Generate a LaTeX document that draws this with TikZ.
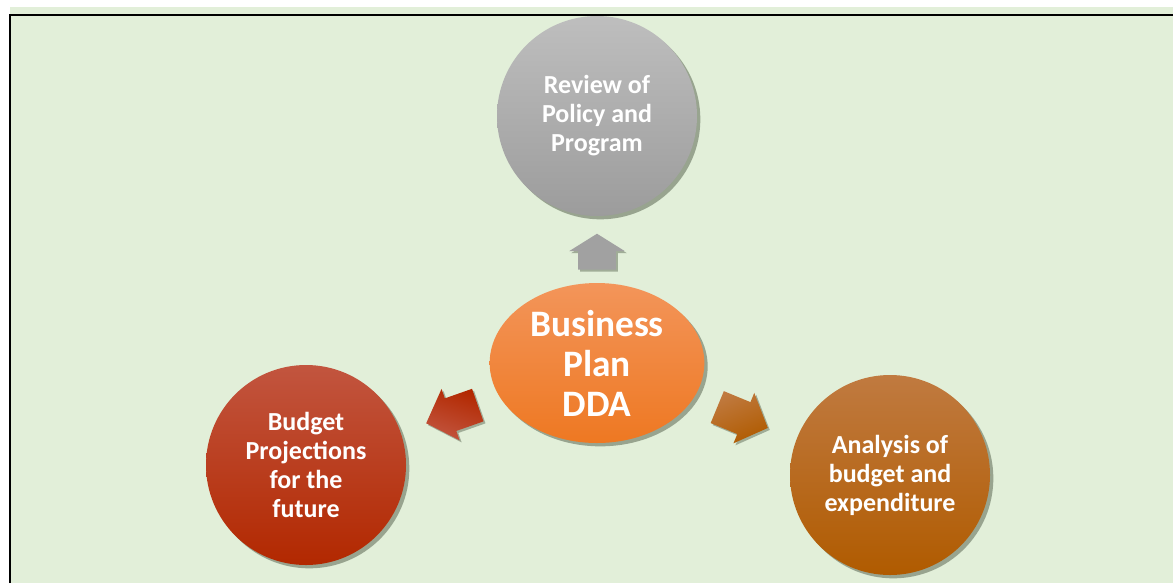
\documentclass[tikz,border=0pt]{standalone}
\usepackage{fontspec}
\setmainfont{Carlito}
\usetikzlibrary{shapes.geometric,shapes.arrows,shadows,positioning}

\definecolor{bggreen}{HTML}{E2EFD9}
\definecolor{graytop}{HTML}{BEBEBE}
\definecolor{graybot}{HTML}{9C9C9C}
\definecolor{planTop}{HTML}{F3955A}
\definecolor{planBot}{HTML}{EE7822}
\definecolor{redTop}{HTML}{C2553F}
\definecolor{redBot}{HTML}{B22800}
\definecolor{brownTop}{HTML}{C07A40}
\definecolor{brownBot}{HTML}{B05B00}
\definecolor{shadowgreen}{HTML}{3E4A36}

\tikzset{
  stage/.style={circle, minimum size=150pt, inner sep=0pt, align=center,
    text=white, font=\bfseries\fontsize{19.5}{21.75}\selectfont,
    drop shadow={shadow xshift=2.5pt, shadow yshift=-2.5pt, opacity=0.45, fill=shadowgreen}},
  hub/.style={ellipse, minimum width=161pt, minimum height=120pt, inner sep=0pt,
    align=center, text=white, font=\bfseries\fontsize{28}{30}\selectfont,
    top color=planTop, bottom color=planBot,
    drop shadow={shadow xshift=2.5pt, shadow yshift=-2.5pt, opacity=0.45, fill=shadowgreen}},
  blockarrow/.style={single arrow, inner xsep=0pt, anchor=tail,
    drop shadow={shadow xshift=1.5pt, shadow yshift=-1.5pt, opacity=0.4, fill=shadowgreen}},
  sidearrow/.style={blockarrow, inner ysep=12.75pt, minimum height=41pt,
    single arrow head extend=7.5pt, single arrow tip angle=93},
}

\begin{document}
\begin{tikzpicture}[x=0.75pt, y=-0.75pt]
  \useasboundingbox (0,0) rectangle (1173,583);
  \fill[white] (0,0) rectangle (1173,583);
  \fill[bggreen] (10,7) rectangle (1173,583);
  \draw[line width=1.6pt] (10,583) -- (10,15) -- (1173,15);

  % the four stages
  \node[hub] (plan) at (597,363) {Business\\Plan\\DDA};
  \node[stage, top color=graytop, bottom color=graybot] (review) at (597,116)
    {Review of\\Policy and\\Program};
  \node[stage, top color=redTop, bottom color=redBot] (projection) at (306,465)
    {Budget\\Projections\\for the\\future};
  \node[stage, top color=brownTop, bottom color=brownBot] (analysis) at (890,475)
    {Analysis of\\budget and\\expenditure};

  % arrows out of the hub
  \node[blockarrow, fill=graybot!85!graytop, inner ysep=13.9pt, minimum height=27pt,
    single arrow head extend=6.75pt, single arrow tip angle=116, rotate=90]
    (toreview) at (597,270) {};
  \node[sidearrow, top color=redTop, bottom color=redBot, shading angle=-199.4,
    rotate=199.4] (toprojection) at (478,405) {};
  \node[sidearrow, top color=brownTop, bottom color=brownBot, shading angle=22.4,
    rotate=-22.4] (toanalysis) at (717,407) {};
\end{tikzpicture}
\end{document}
